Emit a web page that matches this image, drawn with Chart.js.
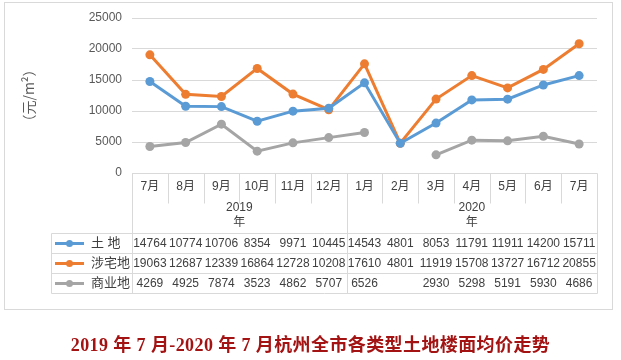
<!DOCTYPE html>
<html>
<head>
<meta charset="utf-8">
<script src="https://cdn.jsdelivr.net/npm/chart.js@4/dist/chart.umd.min.js"></script>
<style>
  html, body { margin: 0; padding: 0; background: #fff; }
  #wrap { position: relative; width: 621px; height: 360px; }
  #frame { position: absolute; left: 4px; top: 2px; width: 609px; height: 308px; border: 1px solid #d9d9d9; box-sizing: border-box; }
  canvas { position: absolute; left: 0; top: 0; }
  #title { position: absolute; left: 0; top: 334px; width: 621px; text-align: center;
    font-family: "Liberation Serif", "Noto Sans CJK SC", serif; font-weight: bold; font-size: 18px; letter-spacing: 0.4px;
    color: #a31313; line-height: 22px; white-space: nowrap; }
</style>
</head>
<body>
<div id="wrap">
  <div id="frame"></div>
  <canvas id="c" width="621" height="360"></canvas>
  <div id="title">2019 年 7 月-2020 年 7 月杭州全市各类型土地楼面均价走势</div>
</div>
<script>
const months = ["7月","8月","9月","10月","11月","12月","1月","2月","3月","4月","5月","6月","7月"];
const years = ["2019", "2020"];
const yearSpans = [6, 7];
const landValues = [14764, 10774, 10706, 8354, 9971, 10445, 14543, 4801, 8053, 11791, 11911, 14200, 15711];
const residentialValues = [19063, 12687, 12339, 16864, 12728, 10208, 17610, 4801, 11919, 15708, 13727, 16712, 20855];
const commercialValues = [4269, 4925, 7874, 3523, 4862, 5707, 6526, null, 2930, 5298, 5191, 5930, 4686];
const seriesNames = ["土 地", "涉宅地", "商业地"];
const yTicks = [0, 5000, 10000, 15000, 20000, 25000];
const yTitle = "（元/m²）";

const colors = ["#5b9bd5", "#ed7d31", "#a5a5a5"];
const gridColor = "#d9d9d9";
const textColor = "#404040";
const FONT = "'Liberation Sans', 'Noto Sans CJK SC', sans-serif";

const tablePlugin = {
  id: 'tablePlugin',
  afterDraw(chart) {
    const ctx = chart.ctx;
    const xs = chart.scales.x;
    const area = chart.chartArea;
    const left = area.left, right = area.right, top = area.bottom;
    const n = months.length;
    const w = (right - left) / n;
    const headerBottom = top + 30;
    const rowTop = top + 60;
    const rowH = 20;
    const tableBottom = rowTop + rowH * 3;
    const legLeft = 51;
    ctx.save();
    ctx.strokeStyle = gridColor;
    ctx.lineWidth = 1;
    const line = (x1, y1, x2, y2) => {
      ctx.beginPath();
      ctx.moveTo(Math.round(x1) + 0.5, Math.round(y1) + 0.5);
      ctx.lineTo(Math.round(x2) + 0.5, Math.round(y2) + 0.5);
      ctx.stroke();
    };
    line(left, top, right, top);
    let boundaries = [0];
    let acc = 0;
    yearSpans.forEach(s => { acc += s; boundaries.push(acc); });
    for (let k = 0; k <= n; k++) {
      const x = left + k * w;
      if (boundaries.includes(k)) line(x, top, x, tableBottom);
      else line(x, top, x, headerBottom);
    }
    for (let r = 0; r <= 3; r++) line(legLeft, rowTop + r * rowH, right, rowTop + r * rowH);
    line(legLeft, rowTop, legLeft, tableBottom);

    ctx.fillStyle = textColor;
    ctx.font = "12px " + FONT;
    ctx.textAlign = "center";
    ctx.textBaseline = "middle";
    months.forEach((m, i) => {
      ctx.fillText(m, xs.getPixelForValue(i), top + 14);
    });
    let start = 0;
    years.forEach((y, j) => {
      const cx = left + (start + yearSpans[j] / 2) * w;
      ctx.fillText(y, cx, top + 35);
      ctx.fillText("年", cx, top + 50);
      start += yearSpans[j];
    });
    const allSeries = [landValues, residentialValues, commercialValues];
    allSeries.forEach((vals, r) => {
      const cy = rowTop + r * rowH + rowH / 2 + 0.5;
      vals.forEach((v, i) => {
        if (v === null) return;
        ctx.fillText(String(v), xs.getPixelForValue(i), cy);
      });
      ctx.strokeStyle = colors[r];
      ctx.lineWidth = 3;
      ctx.beginPath();
      ctx.moveTo(55, cy);
      ctx.lineTo(84, cy);
      ctx.stroke();
      ctx.fillStyle = colors[r];
      ctx.beginPath();
      ctx.arc(69.5, cy, 3.5, 0, Math.PI * 2);
      ctx.fill();
      ctx.fillStyle = textColor;
      ctx.textAlign = "left";
      ctx.font = "13px " + FONT;
      ctx.fillText(seriesNames[r], 91, cy);
      ctx.font = "12px " + FONT;
      ctx.textAlign = "center";
    });
    ctx.restore();
  }
};

new Chart(document.getElementById('c'), {
  type: 'line',
  data: {
    labels: months,
    datasets: [landValues, residentialValues, commercialValues].map((vals, i) => ({
      label: seriesNames[i],
      data: vals,
      borderColor: colors[i],
      backgroundColor: colors[i],
      borderWidth: 3,
      pointRadius: 4.5,
      pointBorderWidth: 0,
      pointBackgroundColor: colors[i],
      tension: 0,
      spanGaps: false
    }))
  },
  options: {
    responsive: false,
    animation: false,
    devicePixelRatio: 1,
    layout: { padding: { left: 0, right: 24, top: 18, bottom: 187 } },
    plugins: { legend: { display: false }, tooltip: { enabled: false }, title: { display: false } },
    scales: {
      x: { type: 'category', offset: true, display: false },
      y: {
        min: 0, max: 25000,
        afterBuildTicks: s => { s.ticks = yTicks.map(v => ({ value: v })); },
        afterFit: s => { s.width = 132; },
        grid: { color: gridColor, drawTicks: false },
        border: { display: false },
        ticks: { padding: 10, color: "#595959", font: { size: 12, family: FONT }, callback: v => String(v) },
        title: { display: true, text: yTitle, color: "#595959", font: { size: 14, family: "'Noto Sans CJK SC', sans-serif" }, padding: { top: 20, bottom: 0 } }
      }
    }
  },
  plugins: [tablePlugin]
});
</script>
</body>
</html>
